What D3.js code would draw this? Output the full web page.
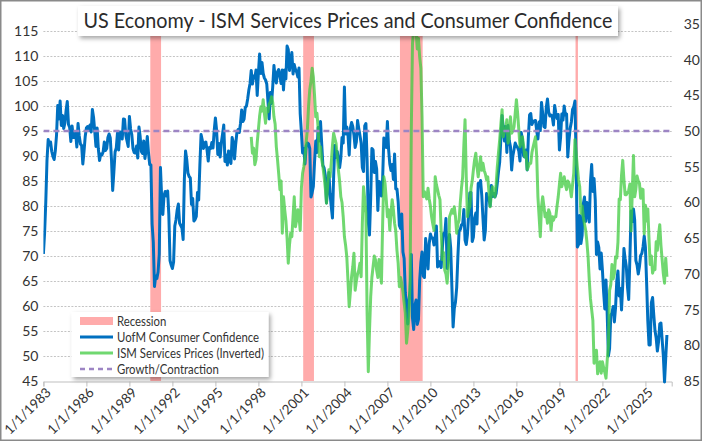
<!DOCTYPE html>
<html><head><meta charset="utf-8">
<script src="https://cdn.jsdelivr.net/npm/d3@7"></script>
<style>
body{margin:0;background:#fff}
svg{display:block}
text{font-family:Lato,"Open Sans",sans-serif}
</style>
</head><body>
<svg id="c" width="702" height="441"></svg>
<script>
// ---------------- DATA ----------------
const chartTitle = "US Economy - ISM Services Prices and Consumer Confidence";
const legendLabels = ["Recession","UofM Consumer Confidence","ISM Services Prices (Inverted)","Growth/Contraction"];

// University of Michigan consumer sentiment, monthly from Jan 1983
const sentimentStart = "1983-01";
const sentiment = [
 70.4,74.6,80.8,89.1,93.3,92.2,92.8,90.9,89.9,89.3,91.1,94.2,   //1983
 100.1,97.4,101.0,96.1,98.1,95.5,96.6,99.1,100.9,96.3,95.7,92.9,//1984
 96.0,93.7,93.7,94.6,91.8,96.5,94.0,92.4,92.1,88.4,90.9,93.9,   //1985
 95.6,95.9,95.1,96.2,94.8,99.3,97.7,94.9,91.9,95.6,91.4,89.1,   //1986
 90.4,90.2,90.8,92.8,91.1,91.5,93.7,94.4,93.6,89.3,83.1,86.8,   //1987
 90.8,91.6,94.6,91.2,94.8,94.7,93.4,97.4,97.3,94.1,93.0,91.9,   //1988
 97.9,95.4,94.3,91.5,90.7,90.6,92.0,89.6,95.8,93.9,90.9,90.5,   //1989
 93.0,89.5,91.3,93.9,90.6,88.3,88.2,76.4,72.8,63.9,66.0,65.5,   //1990
 66.8,70.4,87.7,81.8,78.3,82.1,82.9,82.0,83.0,78.3,69.1,68.2,   //1991
 67.5,68.8,76.0,77.2,79.2,80.4,76.6,76.1,75.6,73.3,85.3,91.0,   //1992
 89.3,86.6,85.9,85.6,80.3,81.5,77.0,77.3,77.9,82.7,81.2,88.2,   //1993
 94.3,93.2,91.5,92.6,92.8,91.2,89.0,91.7,91.5,92.7,91.6,95.1,   //1994
 97.6,95.1,90.3,92.5,89.8,92.7,94.4,96.2,88.9,90.2,88.2,91.0,   //1995
 89.3,88.5,93.7,92.7,89.4,92.4,94.7,95.3,94.7,96.5,99.2,96.9,   //1996
 97.4,99.7,100.0,101.4,103.2,104.5,107.1,104.4,106.0,105.6,107.2,102.1, //1997
 106.6,110.4,106.5,108.7,106.5,105.6,105.2,104.4,100.9,97.4,102.7,100.5,//1998
 103.9,108.1,105.7,104.6,106.8,107.3,106.0,104.5,107.2,103.2,107.2,105.4,//1999
 112.0,111.3,107.1,109.2,110.7,106.4,108.3,107.3,106.8,105.8,107.6,98.4, //2000
 94.7,90.6,91.5,88.4,92.0,92.6,92.4,91.5,81.8,82.7,83.9,88.8,   //2001
 93.0,90.7,95.7,93.0,96.9,92.4,88.1,87.6,86.1,80.6,84.2,86.7,   //2002
 82.4,79.9,77.6,86.0,92.1,89.7,90.9,89.3,87.7,89.6,93.7,92.6,   //2003
 103.8,94.4,95.8,94.2,90.2,95.6,96.7,95.9,94.2,91.7,92.8,97.1,  //2004
 95.5,94.1,92.6,87.7,86.9,96.0,96.5,89.1,76.9,74.2,81.6,91.5,   //2005
 91.2,86.7,88.9,87.4,79.1,84.9,84.7,82.0,85.4,93.6,92.1,91.7,   //2006
 96.9,91.3,88.4,87.1,88.3,85.3,90.4,83.4,83.4,80.9,76.1,75.5,   //2007
 78.4,70.8,69.5,62.6,59.8,56.4,61.2,63.0,70.3,57.6,55.3,60.1,   //2008
 61.2,56.3,57.3,65.1,68.7,70.8,66.0,65.7,73.5,70.6,67.4,72.5,   //2009
 74.4,73.6,73.6,72.2,73.6,76.0,67.8,68.9,68.2,67.7,71.6,74.5,   //2010
 74.2,77.5,67.5,69.8,74.3,71.5,63.7,55.8,59.5,60.8,63.7,69.9,   //2011
 75.0,75.3,76.2,76.4,79.3,73.2,72.3,74.3,78.3,82.6,82.7,72.9,   //2012
 73.8,77.6,78.6,76.4,84.5,84.1,85.1,82.1,77.5,73.2,75.1,82.5,   //2013
 81.2,81.6,80.0,84.1,81.9,82.5,81.8,82.5,84.6,86.9,88.8,93.6,   //2014
 98.1,95.4,93.0,95.9,90.7,96.1,93.1,91.9,87.2,90.0,91.3,92.6,   //2015
 92.0,91.7,91.0,89.0,94.7,93.5,90.0,89.8,91.2,87.2,93.8,98.2,   //2016
 98.5,96.3,96.9,97.0,97.1,95.0,93.4,96.8,95.1,100.7,98.5,95.9,  //2017
 95.7,99.7,101.4,98.8,98.0,98.2,97.9,96.2,100.1,98.6,97.5,98.3, //2018
 91.2,93.8,98.4,97.2,100.0,98.2,98.4,89.8,93.2,95.5,96.8,99.3,  //2019
 99.8,101.0,89.1,71.8,72.3,78.1,72.5,74.1,80.4,81.8,76.9,80.7,  //2020
 79.0,76.8,84.9,88.3,82.9,85.5,81.2,70.3,72.8,71.7,67.4,70.6,   //2021
 67.2,62.8,59.4,65.2,58.4,50.0,51.5,58.2,58.6,59.9,56.8,59.7,   //2022
 64.9,67.0,62.0,63.5,59.2,64.2,71.5,69.5,67.9,63.8,61.3,69.7,   //2023
 79.0,76.9,79.4,77.2,69.1,68.2,66.4,67.9,70.1,70.5,71.8,74.0,   //2024
 71.7,64.7,57.0,52.2,52.2,60.7,61.7,58.2,55.1,53.6,51.0,52.9,   //2025
 56.4,56.6,53.3,50.0,44.8,49.6,54.2                             //2026
];

// ISM services prices index (plotted on the inverted right axis), monthly from Jul 1997
const ismStart = "1997-07";
const ismPrices = [
 50.8,53.1,52.4,54.7,54.0,51.6,                                 //1997 H2
 49.8,47.9,46.6,47.2,45.6,47.5,48.9,46.8,47.3,46.2,45.9,45.2,   //1998
 46.0,48.0,49.0,52.2,54.0,56.0,58.2,57.0,64.3,59.2,61.0,62.5,   //1999
 65.0,68.5,66.0,64.3,64.8,62.0,59.2,63.4,62.5,61.0,62.0,63.9,   //2000
 58.0,55.9,55.0,53.6,51.5,49.8,46.5,44.2,43.0,41.2,42.4,45.0,   //2001
 48.0,47.5,49.5,53.6,52.2,54.0,55.0,56.4,58.0,60.1,57.5,55.4,   //2002
 56.4,54.5,52.0,50.3,51.0,51.7,53.6,55.5,57.0,59.2,60.0,62.0,   //2003
 64.8,66.0,67.6,71.0,74.6,72.5,70.4,69.0,67.1,72.3,71.0,70.0,   //2004
 69.5,68.5,70.4,63.0,57.8,59.5,61.5,75.5,83.7,78.0,73.2,70.5,   //2005
 69.0,67.5,68.0,69.5,70.5,68.0,69.5,71.3,63.0,56.4,57.3,59.5,   //2006
 62.0,61.0,63.9,61.5,59.6,61.0,62.9,64.0,66.7,68.5,71.8,70.5,   //2007
 71.3,72.5,74.0,75.5,79.7,78.0,76.0,70.9,49.8,37.7,35.8,34.5,   //2008
 36.0,38.5,37.0,39.6,41.2,48.0,59.2,58.5,59.0,59.5,58.0,59.5,   //2009
 60.5,62.0,63.0,63.9,56.4,57.5,58.2,59.0,59.6,64.0,68.0,67.0,   //2010
 69.5,70.0,71.3,69.0,62.0,61.5,61.0,61.5,60.6,62.0,64.3,63.0,   //2011
 62.5,60.0,58.0,56.4,52.0,48.4,56.4,62.0,61.0,60.6,58.0,57.0,   //2012
 55.4,54.0,53.1,55.0,56.4,55.0,53.6,55.5,54.5,55.5,56.0,56.8,   //2013
 56.4,58.5,60.6,59.0,57.8,58.5,59.2,57.5,55.0,53.0,51.2,49.0,   //2014
 47.0,50.8,50.0,49.8,48.4,51.7,51.0,48.0,50.3,50.0,49.4,47.5,   //2015
 45.6,47.5,49.8,52.2,51.5,50.8,52.0,53.6,53.0,55.4,55.0,54.5,   //2016
 54.5,53.0,52.2,51.5,50.8,53.6,59.2,62.0,64.8,60.6,59.2,60.5,   //2017
 62.0,61.5,62.9,61.0,61.5,63.9,62.0,62.5,62.0,62.0,60.5,59.2,   //2018
 57.5,55.9,57.8,57.0,56.4,57.5,58.2,57.0,57.3,58.0,59.2,57.5,   //2019
 55.9,51.2,53.1,55.0,56.8,57.8,61.5,60.5,62.0,63.0,63.9,65.5,   //2020
 67.6,70.9,73.5,75.0,76.5,82.5,81.5,80.7,84.0,82.9,82.3,83.9,   //2021
 82.3,83.1,83.8,84.6,82.1,80.1,72.3,71.5,68.7,70.7,70.0,67.6,   //2022
 67.8,65.6,59.5,59.6,56.2,54.1,56.8,58.9,58.9,58.6,58.3,57.4,   //2023
 64.0,58.6,53.4,59.2,58.1,56.3,57.0,57.3,59.4,58.1,58.2,64.4,   //2024
 60.4,62.6,60.9,65.1,68.7,67.5,69.9,69.2,69.4,65.5,66.7,64.5,   //2025
 63.1,66.0,68.0,70.0,71.3,67.8,70.4                             //2026
];

// Recession months (first month, last month)
const recessions = [["1990-07","1991-03"],["2001-03","2001-11"],["2007-12","2009-06"],["2020-03","2020-04"]];
const growthContraction = 50;   // ISM 50 line (secondary axis)

const leftTicks  = [45,50,55,60,65,70,75,80,85,90,95,100,105,110,115];
const rightTicks = [35,40,45,50,55,60,65,70,75,80,85];
const xTickLabels = ["1/1/1983","1/1/1986","1/1/1989","1/1/1992","1/1/1995","1/1/1998","1/1/2001",
  "1/1/2004","1/1/2007","1/1/2010","1/1/2013","1/1/2016","1/1/2019","1/1/2022","1/1/2025"];

// ---------------- CHART ----------------
const monthIndex = s => { const [y,m] = s.split("-").map(Number); return (y-1983)*12 + (m-1); };
const tickMonths = xTickLabels.map(s => { const p = s.split("/"); return (+p[2]-1983)*12 + (+p[0]-1); });

const P = {l:43.4, r:671.7, t:24, b:381};
const x  = d3.scaleLinear().domain([0, 526]).range([P.l, P.r]);
const yL = d3.scaleLinear().domain([45, 116.4]).range([P.b, P.t]);
const yR = d3.scaleLinear().domain([85, 35]).range([P.b, P.t]);

const svg = d3.select("#c");
const defs = svg.append("defs");
const f = defs.append("filter").attr("id","sh").attr("x","-10%").attr("y","-40%").attr("width","125%").attr("height","200%");
f.append("feDropShadow").attr("dx",2).attr("dy",2.5).attr("stdDeviation",2).attr("flood-color","#000").attr("flood-opacity",0.35);
defs.append("clipPath").attr("id","clip").append("rect")
  .attr("x",P.l).attr("y",P.t).attr("width",P.r-P.l).attr("height",P.b-P.t+3);

svg.append("rect").attr("x",0).attr("y",0).attr("width",702).attr("height",441).attr("fill","#fff");

// gridlines
svg.append("g").selectAll("line").data(leftTicks.filter(v=>v>45)).join("line")
  .attr("x1",P.l).attr("x2",P.r).attr("y1",d=>yL(d)+0.5).attr("y2",d=>yL(d)+0.5)
  .attr("stroke","#c4c4c4").attr("stroke-width",1).attr("stroke-dasharray","2,1.5");

// recession bars
svg.append("g").selectAll("rect").data(recessions).join("rect")
  .attr("x",d=>x(monthIndex(d[0])-0.5)).attr("width",d=>x(monthIndex(d[1])+0.5)-x(monthIndex(d[0])-0.5))
  .attr("y",P.t).attr("height",P.b-P.t).attr("fill","#ffabab");

// x axis
const xa = svg.append("g").attr("transform",`translate(0,${P.b+0.5})`)
  .call(d3.axisBottom(x).tickValues(tickMonths).tickSize(5).tickFormat(""));
xa.select(".domain").attr("stroke","#bfbfbf");
xa.selectAll(".tick line").attr("stroke","#bfbfbf");
svg.append("g").selectAll("text").data(tickMonths).join("text")
  .attr("transform",d=>`translate(${x(d)+5},${P.b+9}) rotate(-45)`)
  .attr("text-anchor","end").attr("dy","0.35em")
  .attr("font-size",13.5).attr("fill","#333")
  .text((d,i)=>xTickLabels[i]);

// left axis
const la = svg.append("g").attr("transform",`translate(${P.l},0)`)
  .call(d3.axisLeft(yL).tickValues(leftTicks).tickSize(0).tickPadding(5));
la.select(".domain").remove();
la.selectAll("text").attr("font-size",14).attr("fill","#333").attr("font-family","Lato");

// right axis
const ra = svg.append("g").attr("transform",`translate(${P.r},0)`)
  .call(d3.axisRight(yR).tickValues(rightTicks).tickSize(0).tickPadding(12));
ra.select(".domain").remove();
ra.selectAll("text").attr("font-size",14).attr("fill","#333").attr("font-family","Lato");

const plot = svg.append("g").attr("clip-path","url(#clip)");
const s0 = monthIndex(sentimentStart), i0 = monthIndex(ismStart);
plot.append("path").datum(sentiment)
  .attr("d", d3.line().x((d,i)=>x(s0+i)).y(d=>yL(d)))
  .attr("fill","none").attr("stroke","#0070c0").attr("stroke-width",3).attr("stroke-linejoin","round");
plot.append("path").datum(ismPrices)
  .attr("d", d3.line().x((d,i)=>x(i0+i)).y(d=>yR(d)))
  .attr("fill","none").attr("stroke","#40cb40").attr("stroke-opacity",0.75).attr("stroke-width",3).attr("stroke-linejoin","round");
plot.append("line").attr("x1",P.l).attr("x2",P.r)
  .attr("y1",yR(growthContraction)).attr("y2",yR(growthContraction))
  .attr("stroke","#9d85c4").attr("stroke-width",2.5).attr("stroke-dasharray","6,4");

// title
svg.append("rect").attr("x",78).attr("y",6).attr("width",540).attr("height",30).attr("fill","#fff").attr("filter","url(#sh)");
svg.append("text").attr("x",348).attr("y",28).attr("text-anchor","middle")
  .attr("font-size",21.5).attr("fill","#2b2b2b").attr("textLength",529).attr("lengthAdjust","spacingAndGlyphs")
  .text(chartTitle);

// legend
const lg = svg.append("g");
lg.append("rect").attr("x",71.5).attr("y",312).attr("width",197).attr("height",65).attr("fill","#fff").attr("filter","url(#sh)");
const rowsY = [321,337,353,369];
lg.append("rect").attr("x",80).attr("y",rowsY[0]-4).attr("width",33).attr("height",8).attr("fill","#ffabab");
lg.append("line").attr("x1",80).attr("x2",113).attr("y1",rowsY[1]).attr("y2",rowsY[1]).attr("stroke","#0070c0").attr("stroke-width",3);
lg.append("line").attr("x1",80).attr("x2",113).attr("y1",rowsY[2]).attr("y2",rowsY[2]).attr("stroke","#40cb40").attr("stroke-opacity",0.75).attr("stroke-width",3);
lg.append("line").attr("x1",80).attr("x2",113).attr("y1",rowsY[3]).attr("y2",rowsY[3]).attr("stroke","#9d85c4").attr("stroke-width",2.5).attr("stroke-dasharray","5,4");
const lt = lg.append("g");
lt.selectAll("text").data(legendLabels).join("text")
  .attr("y",(d,i)=>rowsY[i]).attr("dy","0.35em")
  .attr("font-size",13.5).attr("fill","#333").text(d=>d);
const wLong = lt.selectAll("text").nodes()[2].getComputedTextLength();
const sx = Math.min(1, 147/wLong);
lt.attr("transform",`translate(117,0) scale(${sx},1)`);

// chart border
svg.append("rect").attr("x",0.75).attr("y",0.75).attr("width",700.5).attr("height",439.5)
  .attr("fill","none").attr("stroke","#8a8a8a").attr("stroke-width",1.5);
</script>
</body></html>
